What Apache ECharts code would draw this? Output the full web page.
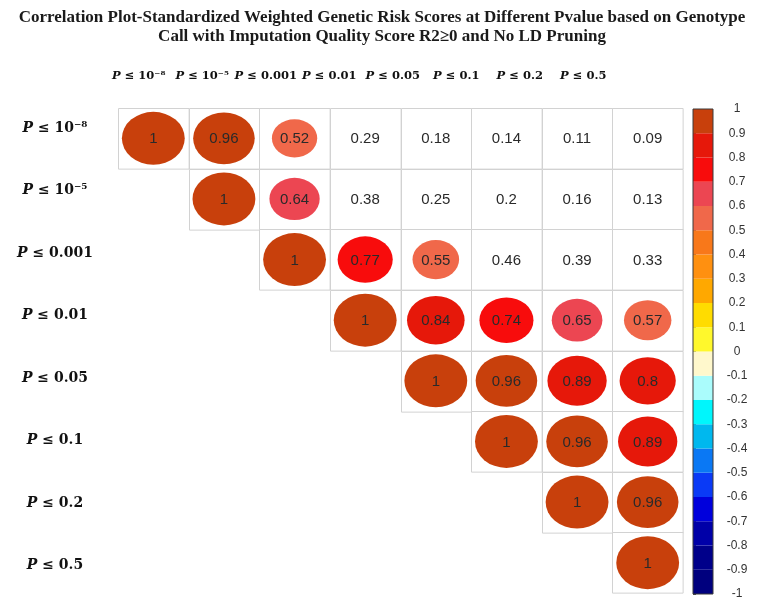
<!DOCTYPE html>
<html>
<head>
<meta charset="utf-8">
<script src="https://cdn.jsdelivr.net/npm/echarts@6/dist/echarts.min.js"></script>
<style>html,body{margin:0;padding:0;background:#fff}#c{width:764px;height:607px}</style>
</head>
<body>
<div id="c"></div>
<script>
const titleLines = [
  'Correlation Plot-Standardized Weighted Genetic Risk Scores at Different Pvalue based on Genotype',
  'Call with Imputation Quality Score R2≥0 and No LD Pruning'
];
const rowLabels = ['P ≤ 10⁻⁸', 'P ≤ 10⁻⁵', 'P ≤ 0.001', 'P ≤ 0.01', 'P ≤ 0.05', 'P ≤ 0.1', 'P ≤ 0.2', 'P ≤ 0.5'];
const colLabels = ['P ≤ 10⁻⁸', 'P ≤ 10⁻⁵', 'P ≤ 0.001', 'P ≤ 0.01', 'P ≤ 0.05', 'P ≤ 0.1', 'P ≤ 0.2', 'P ≤ 0.5'];
// upper triangle correlations (null = not shown)
const corrRow1 = [1, 0.96, 0.52, 0.29, 0.18, 0.14, 0.11, 0.09];
const corrRow2 = [null, 1, 0.64, 0.38, 0.25, 0.2, 0.16, 0.13];
const corrRow3 = [null, null, 1, 0.77, 0.55, 0.46, 0.39, 0.33];
const corrRow4 = [null, null, null, 1, 0.84, 0.74, 0.65, 0.57];
const corrRow5 = [null, null, null, null, 1, 0.96, 0.89, 0.8];
const corrRow6 = [null, null, null, null, null, 1, 0.96, 0.89];
const corrRow7 = [null, null, null, null, null, null, 1, 0.96];
const corrRow8 = [null, null, null, null, null, null, null, 1];
const corrRows = [corrRow1, corrRow2, corrRow3, corrRow4, corrRow5, corrRow6, corrRow7, corrRow8];
// colour bins from -1 to 1 in steps of 0.1 (bottom to top)
const binColors = [
  '#00007e', '#00008a', '#0000a8', '#0000dc', '#0a3af6',
  '#0a78f4', '#00b8ee', '#00f6fc', '#aafcfc', '#fff8cc',
  '#fff82c', '#ffdc00', '#ffa800', '#ff9010', '#f8781a',
  '#f0684a', '#ec4652', '#f80c0c', '#e6180a', '#c8400c'
];
const colorbarTicks = [-1, -0.9, -0.8, -0.7, -0.6, -0.5, -0.4, -0.3, -0.2, -0.1, 0, 0.1, 0.2, 0.3, 0.4, 0.5, 0.6, 0.7, 0.8, 0.9, 1];

function binIndex(v) {
  let i = Math.floor(Math.round((v + 1) * 1000) / 100);
  return Math.max(0, Math.min(19, i));
}

const cellData = [];
corrRows.forEach((row, r) => row.forEach((v, c) => { if (v !== null) cellData.push([c, r, v]); }));
const barData = [];
for (let i = 0; i < binColors.length; i++) barData.push([colorbarTicks[i], colorbarTicks[i + 1], i]);

function labelFmt(v) { return '{p|P}{t|' + v.slice(1) + '}'; }
function richFor(size) {
  return {
    p: { fontFamily: 'DejaVu Serif', fontStyle: 'italic', fontWeight: 'bold', fontSize: size, color: '#111' },
    t: { fontFamily: 'DejaVu Serif', fontWeight: 'bold', fontSize: size, color: '#111' }
  };
}

const chart = echarts.init(document.getElementById('c'), null, { renderer: 'canvas' });
chart.setOption({
  animation: false,
  backgroundColor: '#fff',
  title: {
    text: titleLines.join('\n'), left: 'center', top: 3,
    textStyle: { fontFamily: 'Liberation Serif', fontWeight: 'bold', fontSize: 17, lineHeight: 19, color: '#1a1a1a' }
  },
  grid: [
    { left: 118, top: 108, width: 565, height: 485 },
    { left: 107, top: 88, width: 508, height: 1 },
    { left: 118, top: 97, width: 1, height: 500 },
    { left: 693, top: 109, width: 20, height: 485 }
  ],
  xAxis: [
    { gridIndex: 0, type: 'category', data: colLabels, show: false },
    { gridIndex: 1, type: 'category', data: colLabels, position: 'top',
      axisLine: { show: false }, axisTick: { show: false },
      axisLabel: { interval: 0, margin: 6, formatter: labelFmt, rich: richFor(11.5) } },
    { gridIndex: 2, type: 'value', show: false },
    { gridIndex: 3, type: 'value', min: 0, max: 1, show: false }
  ],
  yAxis: [
    { gridIndex: 0, type: 'category', data: rowLabels, inverse: true, show: false },
    { gridIndex: 1, type: 'value', show: false },
    { gridIndex: 2, type: 'category', data: rowLabels, inverse: true,
      axisLine: { show: false }, axisTick: { show: false },
      axisLabel: { interval: 0, align: 'center', margin: 63, formatter: labelFmt, rich: richFor(14) } },
    { gridIndex: 3, type: 'value', min: -1, max: 1, interval: 0.1, position: 'right',
      axisLine: { show: false }, splitLine: { show: false },
      axisTick: { show: true, length: 3, lineStyle: { color: '#555' } },
      axisLabel: { align: 'center', margin: 24, fontFamily: 'Liberation Sans', fontSize: 12, color: '#333',
        formatter: v => String(+v.toFixed(1)) } }
  ],
  series: [
    {
      type: 'custom', xAxisIndex: 0, yAxisIndex: 0, data: cellData,
      renderItem: function (params, api) {
        const col = api.value(0), row = api.value(1), v = api.value(2);
        const c = api.coord([col, row]);
        const s = api.size([1, 1]);
        const children = [{
          type: 'rect',
          shape: { x: Math.round(c[0] - s[0] / 2) + 0.5, y: Math.round(c[1] - s[1] / 2) + 0.5, width: s[0], height: s[1] },
          style: { fill: '#fff', stroke: '#d2d2d2', lineWidth: 1 }
        }];
        if (Math.abs(v) >= 0.5) {
          const rx = 0.445 * s[0] * Math.sqrt(Math.abs(v));
          children.push({
            type: 'circle', x: c[0], y: c[1], scaleY: (s[1] * 0.98) / s[0],
            shape: { cx: 0, cy: 0, r: rx },
            style: { fill: binColors[binIndex(v)] }
          });
        }
        children.push({
          type: 'text', x: c[0], y: c[1] + 1,
          style: { text: String(v), align: 'center', verticalAlign: 'middle',
            font: '15px "Liberation Sans"', fill: '#2a2a2a' }
        });
        return { type: 'group', children: children };
      }
    },
    {
      type: 'custom', xAxisIndex: 3, yAxisIndex: 3, data: barData,
      renderItem: function (params, api) {
        const lo = api.value(0), hi = api.value(1), idx = api.value(2);
        const p1 = api.coord([0, hi]), p2 = api.coord([1, lo]);
        const children = [{
          type: 'rect',
          shape: { x: p1[0], y: p1[1], width: p2[0] - p1[0], height: p2[1] - p1[1] },
          style: { fill: binColors[idx] }
        }];
        if (params.dataIndex === binColors.length - 1) {
          const a = api.coord([0, 1]), b = api.coord([1, -1]);
          children.push({
            type: 'rect', z2: 10,
            shape: { x: a[0], y: a[1], width: b[0] - a[0], height: b[1] - a[1] },
            style: { fill: 'none', stroke: '#3a3a3a', lineWidth: 1 }
          });
        }
        return { type: 'group', children: children };
      }
    }
  ]
});
</script>
</body>
</html>
